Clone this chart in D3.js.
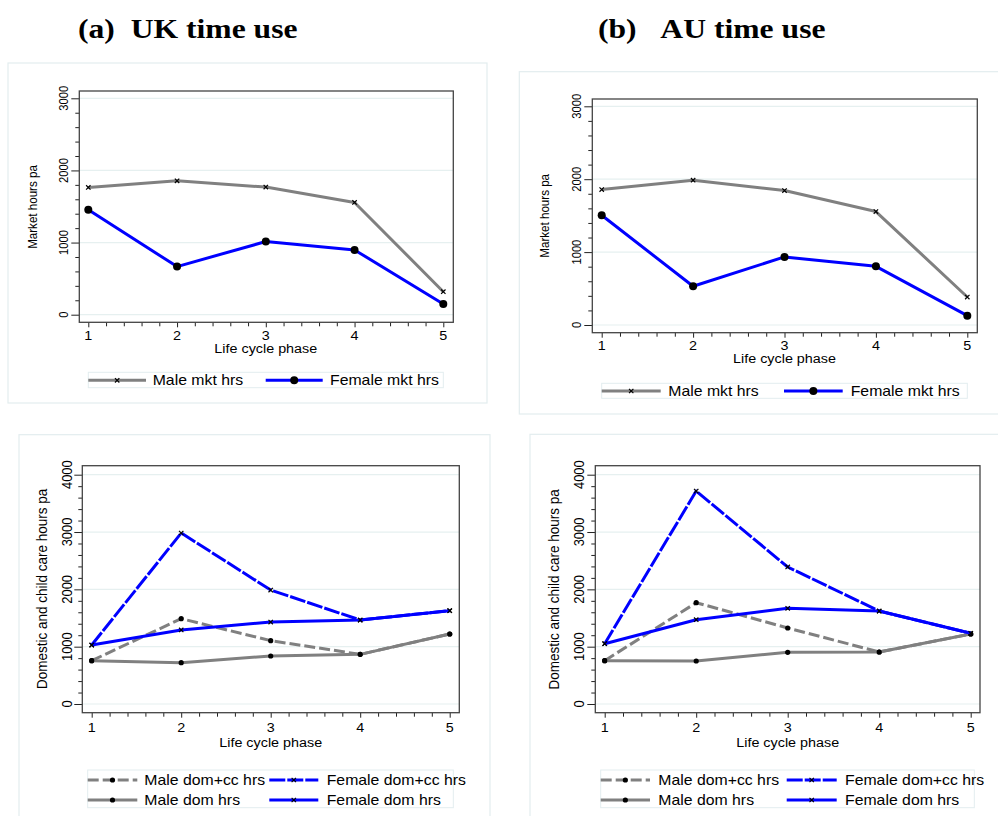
<!DOCTYPE html>
<html><head><meta charset="utf-8">
<script src="https://cdn.jsdelivr.net/npm/d3@7"></script>
<style>body{margin:0;background:#fff}svg{display:block}</style>
</head><body>
<svg id="c" width="998" height="816"></svg>
<script>
// ---- data ----
const phases = [1, 2, 3, 4, 5];
const ukMaleMkt   = [1764, 1856, 1769, 1556, 319];
const ukFemaleMkt = [1454, 667, 1014, 898, 148];
const auMaleMkt   = [1858, 1986, 1844, 1556, 384];
const auFemaleMkt = [1506, 531, 934, 805, 128];
const ukMaleDomCC   = [756, 1488, 1105, 866, 1221];
const ukMaleDom     = [756, 721, 837, 866, 1221];
const ukFemaleDomCC = [1029, 2983, 1988, 1465, 1628];
const ukFemaleDom   = [1029, 1291, 1430, 1465, 1628];
const auMaleDomCC   = [756, 1767, 1326, 907, 1221];
const auMaleDom     = [756, 750, 901, 907, 1221];
const auFemaleDomCC = [1052, 3715, 2390, 1622, 1233];
const auFemaleDom   = [1052, 1471, 1669, 1622, 1233];
const mktTicks = [0, 1000, 2000, 3000];
const domTicks = [0, 1000, 2000, 3000, 4000];
const titles = ["(a)\u00a0\u00a0UK time use", "(b)\u00a0\u00a0\u00a0AU time use"];
const mktLegend = ["Male mkt hrs", "Female mkt hrs"];
const domLegend = ["Male dom+cc hrs", "Female dom+cc hrs", "Male dom hrs", "Female dom hrs"];
const xTitle = "Life cycle phase";
const mktYTitle = "Market hours pa";
const domYTitle = "Domestic and child care hours pa";

// ---- styles ----
const GREY = "#808080", BLUE = "#0000ff", LIGHT = "#e3edef", SX = 1.13;
const svg = d3.select("#c");

function htext(g, x, y, txt, size, anchor, opts = {}) {
  return g.append("text")
    .attr("transform", `translate(${x},${y}) scale(${SX},1)`)
    .attr("text-anchor", anchor)
    .attr("font-family", opts.family || "Liberation Sans, Arial, sans-serif")
    .attr("font-weight", opts.weight || "normal")
    .attr("font-size", size).attr("fill", "#000").text(txt);
}
function vtext(g, x, y, txt, size) {
  return g.append("text")
    .attr("transform", `translate(${x},${y}) scale(${SX},1) rotate(-90)`)
    .attr("text-anchor", "middle")
    .attr("font-family", "Liberation Sans, Arial, sans-serif")
    .attr("font-size", size).attr("fill", "#000").text(txt);
}
function marker(g, type, x, y) {
  if (type === "x") {
    const s = 2.2;
    g.append("path").attr("d", `M${x-s},${y-s}L${x+s},${y+s}M${x-s},${y+s}L${x+s},${y-s}`)
      .attr("stroke", "#000").attr("stroke-width", 1.2).attr("fill", "none");
  } else if (type === "O") {
    g.append("circle").attr("cx", x).attr("cy", y).attr("r", 4).attr("fill", "#000");
  } else {
    g.append("circle").attr("cx", x).attr("cy", y).attr("r", 2.6).attr("fill", "#000");
  }
}

function panel(cfg) {
  const g = svg.append("g");
  g.append("rect").attr("x", cfg.box[0]).attr("y", cfg.box[1])
    .attr("width", cfg.box[2] - cfg.box[0]).attr("height", cfg.box[3] - cfg.box[1])
    .attr("fill", "none").attr("stroke", LIGHT).attr("stroke-width", 1.2);

  const x = d3.scaleLinear().domain([1, 5]).range(cfg.xr);
  const y = d3.scaleLinear().domain([0, cfg.ymax]).range(cfg.yr);
  const [fl, fr, ft, fb] = cfg.frame;

  g.selectAll(".grid").data(cfg.ticks).enter().append("line")
    .attr("x1", fl).attr("x2", fr).attr("y1", d => y(d)).attr("y2", d => y(d))
    .attr("stroke", "#e6f0f0").attr("stroke-width", 1.2);

  const minorY = d3.range(0, cfg.ymax + 1, 200).filter(v => v % 1000 !== 0);
  const yMaj = g.append("g").attr("transform", `translate(${fl},0)`)
    .call(d3.axisLeft(y).tickValues(cfg.ticks).tickSize(8).tickFormat(""));
  const yMin = g.append("g").attr("transform", `translate(${fl},0)`)
    .call(d3.axisLeft(y).tickValues(minorY).tickSize(4).tickFormat(""));
  const minorX = d3.range(1.2, 5, 0.2).filter(v => Math.abs(v - Math.round(v)) > 0.01);
  const xMaj = g.append("g").attr("transform", `translate(0,${fb})`)
    .call(d3.axisBottom(x).tickValues(phases).tickSize(5).tickFormat(""));
  const xMin = g.append("g").attr("transform", `translate(0,${fb})`)
    .call(d3.axisBottom(x).tickValues(minorX).tickSize(4).tickFormat(""));
  [yMaj, yMin, xMaj, xMin].forEach(a => {
    a.select(".domain").remove();
    a.selectAll("line").attr("stroke", "#222").attr("stroke-width", 1);
  });

  g.append("rect").attr("x", fl).attr("y", ft).attr("width", fr - fl).attr("height", fb - ft)
    .attr("fill", "none").attr("stroke", "#444").attr("stroke-width", 1.3);

  cfg.ticks.forEach(t => vtext(g, cfg.yLabX, y(t), String(t), cfg.ytSize));
  phases.forEach(p => htext(g, x(p), cfg.xLabY, String(p), cfg.xtSize, "middle"));
  htext(g, x(3), cfg.xTitY, xTitle, cfg.xtSize, "middle");
  vtext(g, cfg.yTitX, cfg.yTitY, cfg.yTitle, cfg.yTitSize);

  const line = d3.line().x((d, i) => x(phases[i])).y(d => y(d));
  cfg.series.forEach(s => {
    g.append("path").datum(s.values).attr("d", line)
      .attr("fill", "none").attr("stroke", s.color).attr("stroke-width", 3)
      .attr("stroke-dasharray", s.dash || null).attr("stroke-linejoin", "round");
    s.values.forEach((v, i) => marker(g, s.marker, x(phases[i]), y(v)));
  });

  const L = cfg.legend;
  g.append("rect").attr("x", L.box[0]).attr("y", L.box[1])
    .attr("width", L.box[2] - L.box[0]).attr("height", L.box[3] - L.box[1])
    .attr("fill", "#fff").attr("stroke", LIGHT).attr("stroke-width", 1);
  L.items.forEach((it, i) => {
    const s = cfg.series[i];
    g.append("line").attr("x1", it.x0).attr("x2", it.x1).attr("y1", it.y).attr("y2", it.y)
      .attr("stroke", s.color).attr("stroke-width", 3).attr("stroke-dasharray", s.dash || null);
    marker(g, s.marker, (it.x0 + it.x1) / 2, it.y);
    htext(g, it.tx, it.y + 5, s.name, 14, "start");
  });
}

const tg = svg.append("g");
htext(tg, 78, 38, titles[0], 28, "start", {family: "Liberation Serif, Times New Roman, serif", weight: "bold"});
htext(tg, 598, 38, titles[1], 28, "start", {family: "Liberation Serif, Times New Roman, serif", weight: "bold"});

panel({
  box: [8, 63, 487, 403], frame: [79.3, 453.3, 91, 322.3],
  xr: [88.3, 443.3], yr: [314.7, 98.3], ymax: 3000, ticks: mktTicks,
  yLabX: 68, ytSize: 11.2, xLabY: 339.5, xTitY: 352.5, xtSize: 12.7,
  yTitle: mktYTitle, yTitX: 37, yTitY: 207, yTitSize: 11.6,
  series: [
    {name: mktLegend[0], values: ukMaleMkt, color: GREY, marker: "x"},
    {name: mktLegend[1], values: ukFemaleMkt, color: BLUE, marker: "O"}
  ],
  legend: {box: [88.3, 372.3, 443.3, 387.7], items: [
    {x0: 88.3, x1: 146, y: 380.3, tx: 152.7},
    {x0: 265.7, x1: 322.7, y: 380.3, tx: 330}
  ]}
});
panel({
  box: [519.3, 71.7, 1002, 414], frame: [592.3, 977.3, 99, 332.7],
  xr: [601.7, 967.3], yr: [325, 106.3], ymax: 3000, ticks: mktTicks,
  yLabX: 580.7, ytSize: 11.2, xLabY: 349.5, xTitY: 362.5, xtSize: 12.7,
  yTitle: mktYTitle, yTitX: 549.3, yTitY: 215.8, yTitSize: 11.6,
  series: [
    {name: mktLegend[0], values: auMaleMkt, color: GREY, marker: "x"},
    {name: mktLegend[1], values: auFemaleMkt, color: BLUE, marker: "O"}
  ],
  legend: {box: [601.7, 383.3, 967.3, 398.3], items: [
    {x0: 601.7, x1: 660.7, y: 391, tx: 668.3},
    {x0: 784, x1: 842.7, y: 391, tx: 850.7}
  ]}
});
panel({
  box: [19, 434.7, 490, 820], frame: [82.3, 459.3, 465.7, 712.7],
  xr: [91.7, 449.7], yr: [704, 474.7], ymax: 4000, ticks: domTicks,
  yLabX: 71.5, ytSize: 12.9, xLabY: 732, xTitY: 746.5, xtSize: 12.7,
  yTitle: domYTitle, yTitX: 47, yTitY: 588.8, yTitSize: 13.5,
  series: [
    {name: domLegend[0], values: ukMaleDomCC, color: GREY, marker: "o", dash: "11,4"},
    {name: domLegend[1], values: ukFemaleDomCC, color: BLUE, marker: "x", dash: "16,2"},
    {name: domLegend[2], values: ukMaleDom, color: GREY, marker: "o"},
    {name: domLegend[3], values: ukFemaleDom, color: BLUE, marker: "x"}
  ],
  legend: {box: [87.7, 770, 453.3, 807.7], items: [
    {x0: 87.7, x1: 137.3, y: 780, tx: 144.3},
    {x0: 269.3, x1: 318.3, y: 780, tx: 326.7},
    {x0: 87.7, x1: 137.3, y: 800, tx: 144.3},
    {x0: 269.3, x1: 318.3, y: 800, tx: 326.7}
  ]}
});
panel({
  box: [530, 434.3, 1002, 820], frame: [595.3, 980, 465.7, 712.7],
  xr: [604.7, 970.7], yr: [704, 474.7], ymax: 4000, ticks: domTicks,
  yLabX: 583.7, ytSize: 12.9, xLabY: 732, xTitY: 746.5, xtSize: 12.7,
  yTitle: domYTitle, yTitX: 559, yTitY: 589.3, yTitSize: 13.5,
  series: [
    {name: domLegend[0], values: auMaleDomCC, color: GREY, marker: "o", dash: "11,4"},
    {name: domLegend[1], values: auFemaleDomCC, color: BLUE, marker: "x", dash: "16,2"},
    {name: domLegend[2], values: auMaleDom, color: GREY, marker: "o"},
    {name: domLegend[3], values: auFemaleDom, color: BLUE, marker: "x"}
  ],
  legend: {box: [600.7, 770, 974.3, 807.7], items: [
    {x0: 600.7, x1: 650, y: 780, tx: 658.3},
    {x0: 786.7, x1: 836.7, y: 780, tx: 845},
    {x0: 600.7, x1: 650, y: 800, tx: 658.3},
    {x0: 786.7, x1: 836.7, y: 800, tx: 845}
  ]}
});
</script>
</body></html>
